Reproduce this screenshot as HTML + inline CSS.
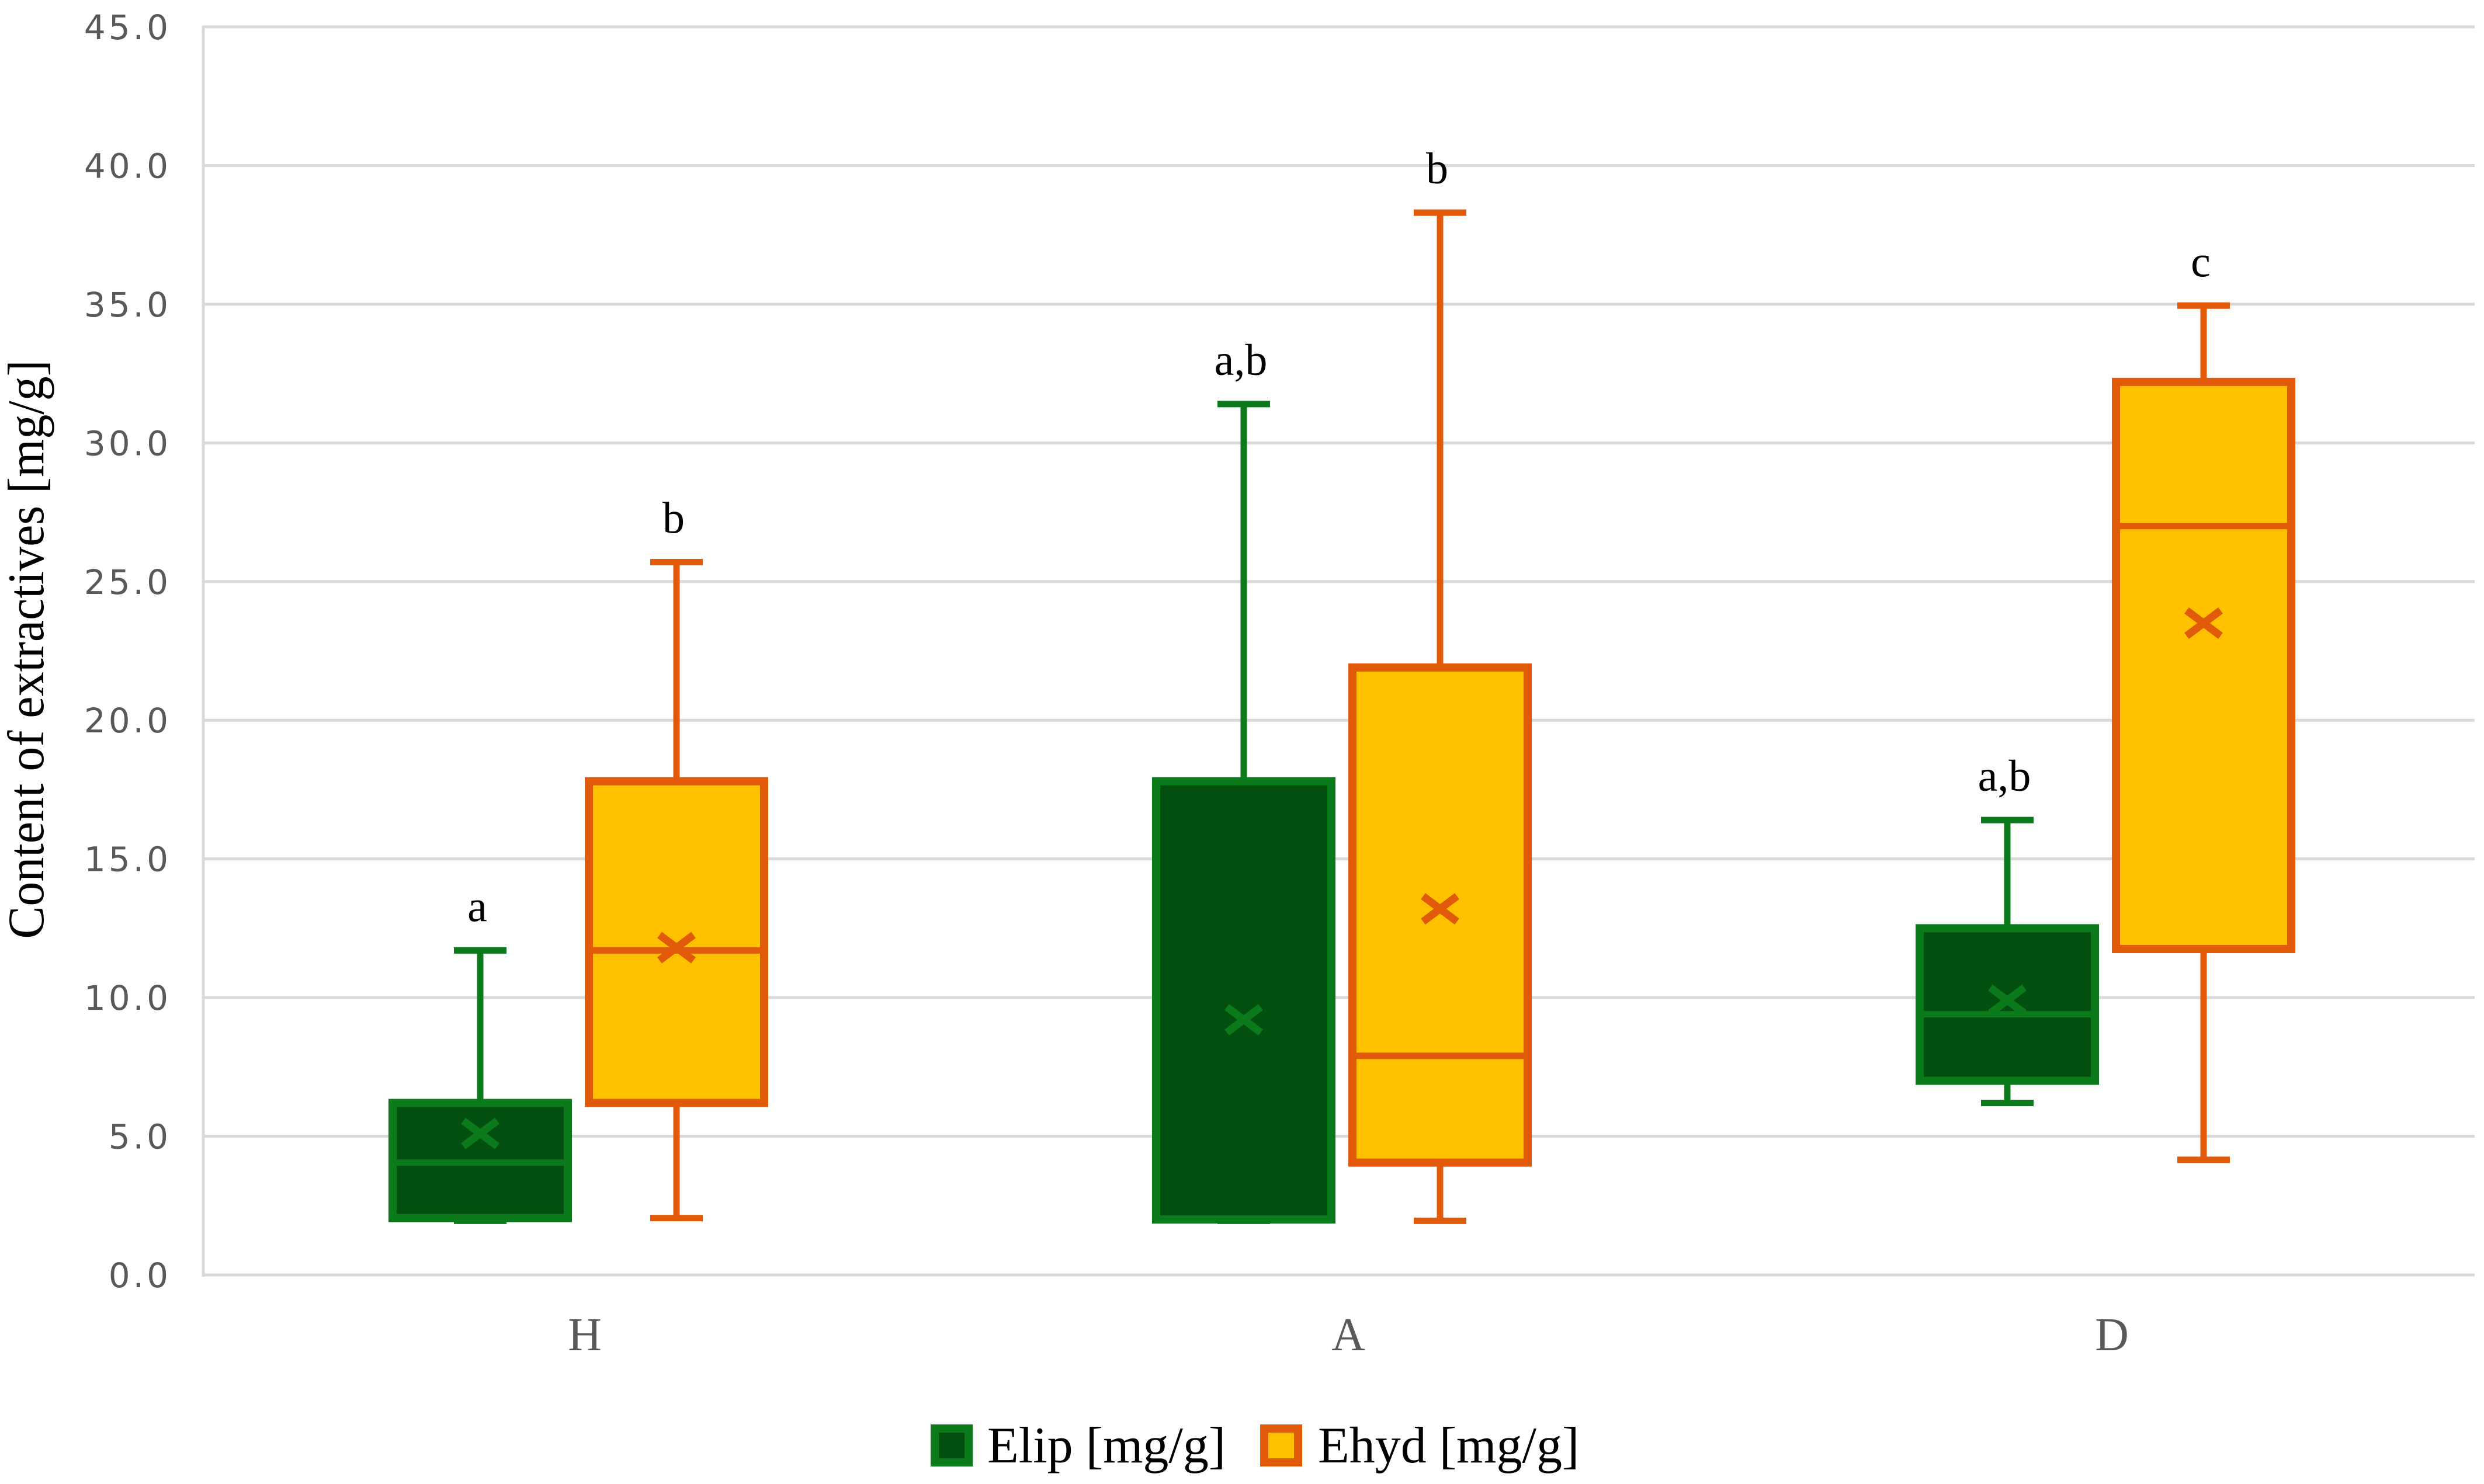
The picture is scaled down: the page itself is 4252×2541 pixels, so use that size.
<!DOCTYPE html>
<html><head><meta charset="utf-8"><style>
html,body{margin:0;padding:0;background:#fff}
svg{display:block}
</style></head><body>
<svg id="chart" width="4252" height="2541" viewBox="0 0 4252 2541" xmlns="http://www.w3.org/2000/svg">
<g id="grid"></g>
<g id="yticks"></g>
<g id="boxes"></g>
<g id="xlabels"></g>
<text transform="translate(74,1112) rotate(-90) scale(1,1.05)" text-anchor="middle" font-family="Liberation Serif, serif" font-size="84" fill="#000">Content of extractives [mg/g]</text>
<g>
<g>
<rect x="1600" y="2446" width="58" height="58" fill="#034f10" stroke="#0a7a1a" stroke-width="14"/>
<text x="1690" y="2504" font-family="Liberation Serif, serif" font-size="88" fill="#000">Elip [mg/g]</text></g>
<g>
<rect x="2164" y="2446" width="58" height="58" fill="#ffc000" stroke="#e05a0a" stroke-width="14"/>
<text x="2256" y="2504" font-family="Liberation Serif, serif" font-size="88" fill="#000">Ehyd [mg/g]</text></g>
</g>
</svg>
<script>
const categories = ["H", "A", "D"];
const yTicks = [0, 5, 10, 15, 20, 25, 30, 35, 40, 45];
const elipMin = [1.95, 1.95, 6.2];
const elipQ1 = [2.05, 2.0, 7.0];
const elipMedian = [4.05, 2.0, 9.4];
const elipQ3 = [6.2, 17.8, 12.5];
const elipMax = [11.7, 31.4, 16.4];
const elipMean = [5.1, 9.2, 9.9];
const elipLetters = ["a", "a,b", "a,b"];
const ehydMin = [2.05, 1.95, 4.15];
const ehydQ1 = [6.2, 4.05, 11.75];
const ehydMedian = [11.7, 7.9, 27.0];
const ehydQ3 = [17.8, 21.9, 32.2];
const ehydMax = [25.7, 38.3, 34.95];
const ehydMean = [11.8, 13.2, 23.5];
const ehydLetters = ["b", "b", "c"];

const NS = "http://www.w3.org/2000/svg";
const X0 = 348, X1 = 4236, Y0 = 2183, Y45 = 46;
const STEP = 1307, FIRST = 990;
function yScale(v){ return Y0 - (Number(v)/45)*(Y0-Y45); }
function xScale(i){ return FIRST + STEP*i; }
function mk(tag, attrs, parent){ const e=document.createElementNS(NS,tag); for(const k in attrs) e.setAttribute(k,attrs[k]); parent.appendChild(e); return e; }

const grid=document.getElementById('grid');
yTicks.forEach(t=>{
  const l=mk('line',{x1:X0,x2:X1,y1:yScale(t),y2:yScale(t),stroke:'#d9d9d9','stroke-width':5},grid);
  
  
});
const ax=mk('line',{x1:X0,x2:X0,y1:Y45-2,y2:Y0+3,stroke:'#d9d9d9','stroke-width':5},grid);



const yt=document.getElementById('yticks');
yTicks.forEach(t=>{
  const tx=mk('text',{x:293,y:yScale(t)+21,'text-anchor':'end','font-family':'DejaVu Sans, sans-serif','font-size':58,fill:'#595959','letter-spacing':5},yt);
  tx.textContent=t.toFixed(1);
  
  
});

const xl=document.getElementById('xlabels');
categories.forEach((c,i)=>{
  const tx=mk('text',{x:xScale(i)+11,y:2312,'text-anchor':'middle','font-family':'Liberation Serif, serif','font-size':80,fill:'#595959'},xl);
  tx.textContent=c;
  
  
});

const boxes=document.getElementById('boxes');
const BW=300, CAP=90, SW=11;
function drawSeries(name, off, fill, stroke, mnA, q1A, mdA, q3A, mxA, meanA, letA){
  for(let i=0;i<categories.length;i++){
    const c=categories[i];
    const cx=xScale(i)+off;
    const yMx=yScale(mxA[i]), yMn=yScale(mnA[i]), yQ1=yScale(q1A[i]), yQ3=yScale(q3A[i]), yMd=yScale(mdA[i]), yMean=yScale(meanA[i]);
    const g=mk('g',{},boxes);
    
    
    mk('line',{x1:cx,x2:cx,y1:yMx,y2:yQ3,stroke:stroke,'stroke-width':SW},g);
    mk('line',{x1:cx,x2:cx,y1:yQ1,y2:yMn,stroke:stroke,'stroke-width':SW},g);
    mk('line',{x1:cx-CAP/2,x2:cx+CAP/2,y1:yMx,y2:yMx,stroke:stroke,'stroke-width':SW},g);
    mk('line',{x1:cx-CAP/2,x2:cx+CAP/2,y1:yMn,y2:yMn,stroke:stroke,'stroke-width':SW},g);
    mk('rect',{x:cx-BW/2,y:yQ3,width:BW,height:Math.max(1,yQ1-yQ3),fill:fill,stroke:stroke,'stroke-width':14},g);
    mk('line',{x1:cx-BW/2,x2:cx+BW/2,y1:yMd,y2:yMd,stroke:stroke,'stroke-width':SW},g);
    const m=29;
    mk('path',{d:'M'+(cx-m)+','+(yMean-m*0.75)+'L'+(cx+m)+','+(yMean+m*0.75)+'M'+(cx-m)+','+(yMean+m*0.75)+'L'+(cx+m)+','+(yMean-m*0.75),stroke:stroke,'stroke-width':13,fill:'none'},g);
    const lt=mk('text',{x:cx-5,y:yMx-50,'text-anchor':'middle','font-family':'Liberation Serif, serif','font-size':76,fill:'#000'},boxes);
    lt.textContent=letA[i];
    
    
  }
}
drawSeries('elip', -168, '#034f10', '#0a7a1a', elipMin, elipQ1, elipMedian, elipQ3, elipMax, elipMean, elipLetters);
drawSeries('ehyd', 168, '#ffc000', '#e05a0a', ehydMin, ehydQ1, ehydMedian, ehydQ3, ehydMax, ehydMean, ehydLetters);
</script>
</body></html>
